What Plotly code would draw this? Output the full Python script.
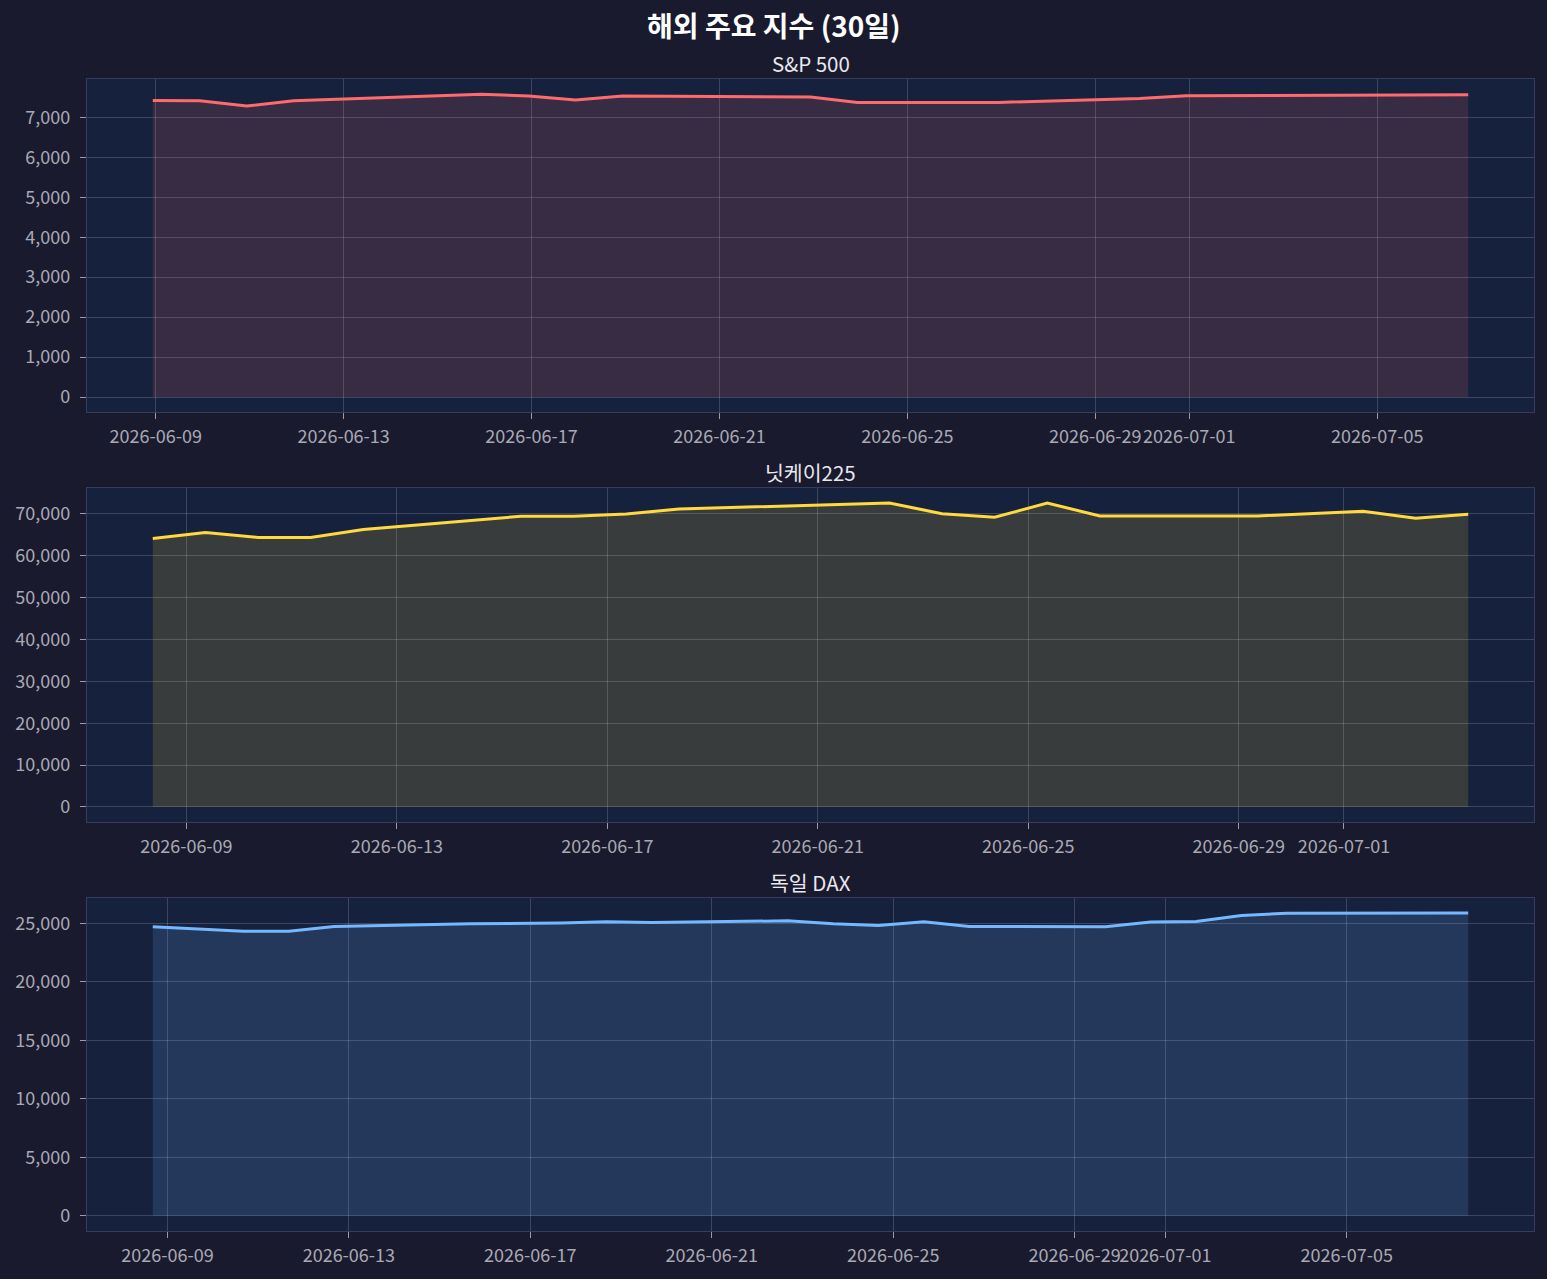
import pandas as pd
import plotly.graph_objects as go
from plotly.subplots import make_subplots

FONT = "Noto Sans CJK KR"

# S&P 500
sp_dates = ["2026-06-08 22:30", "2026-06-09 22:30", "2026-06-10 22:30", "2026-06-11 22:30",
            "2026-06-15 22:30", "2026-06-16 22:30", "2026-06-17 22:30", "2026-06-18 22:30",
            "2026-06-22 22:30", "2026-06-23 22:30", "2026-06-26 22:30", "2026-06-29 22:30",
            "2026-06-30 22:30", "2026-07-06 22:30"]
sp_close = [7422, 7412, 7280, 7412, 7578, 7532, 7432, 7532, 7508, 7372, 7372, 7471, 7536, 7561]
sp_ticks = ["2026-06-09", "2026-06-13", "2026-06-17", "2026-06-21", "2026-06-25",
            "2026-06-29", "2026-07-01", "2026-07-05"]

# 닛케이225
nk_dates = ["2026-06-08 08:40", "2026-06-09 08:40", "2026-06-10 08:40", "2026-06-11 08:40",
            "2026-06-12 08:40", "2026-06-15 08:40", "2026-06-16 08:40", "2026-06-17 08:40",
            "2026-06-18 08:40", "2026-06-22 08:40", "2026-06-23 08:40", "2026-06-24 08:40",
            "2026-06-25 08:40", "2026-06-26 08:40", "2026-06-29 08:40", "2026-07-01 08:40",
            "2026-07-02 08:40", "2026-07-03 08:40"]
nk_close = [64161, 65579, 64397, 64397, 66300, 69456, 69456, 70000, 71182, 72600,
            70071, 69220, 72600, 69527, 69527, 70638, 68983, 69929]
nk_ticks = ["2026-06-09", "2026-06-13", "2026-06-17", "2026-06-21", "2026-06-25",
            "2026-06-29", "2026-07-01"]

# 독일 DAX
dax_dates = ["2026-06-08 16:15", "2026-06-10 16:15", "2026-06-11 16:15", "2026-06-12 16:15",
             "2026-06-15 16:15", "2026-06-16 16:15", "2026-06-17 16:15", "2026-06-18 16:15",
             "2026-06-19 16:15", "2026-06-22 16:15", "2026-06-23 16:15", "2026-06-24 16:15",
             "2026-06-25 16:15", "2026-06-26 16:15", "2026-06-29 16:15", "2026-06-30 16:15",
             "2026-07-01 16:15", "2026-07-02 16:15", "2026-07-03 16:15", "2026-07-07 16:15"]
dax_close = [24711, 24320, 24320, 24745, 24966, 25000, 25040, 25136, 25085, 25221,
             24966, 24830, 25136, 24745, 24711, 25111, 25170, 25680, 25876, 25900]
dax_ticks = sp_ticks

panels = [
    ("S&P 500", sp_dates, sp_close, sp_ticks, 1000, "#ff6b6b", "rgba(255,107,107,0.15)"),
    ("닛케이225", nk_dates, nk_close, nk_ticks, 10000, "#ffd93d", "rgba(255,217,61,0.15)"),
    ("독일 DAX", dax_dates, dax_close, dax_ticks, 5000, "#74b9ff", "rgba(116,185,255,0.15)"),
]

W, H = 1547, 1279
ML, MR, MT, MB = 87, 13, 79, 42
plot_h = H - MT - MB
# panel top/bottom in pixels
panel_px = [(79, 414), (490, 826), (902, 1237)]


def frac(px):
    return (H - MB - px) / plot_h


fig = make_subplots(rows=3, cols=1)

for i, (name, dates, close, ticks, dtick, color, fill) in enumerate(panels):
    row = i + 1
    x = pd.to_datetime(dates)
    fig.add_trace(go.Scatter(x=x, y=close, mode="lines", fill="tozeroy",
                             fillcolor=fill, line=dict(color=color, width=3),
                             name=name, showlegend=False), row=row, col=1)

    pad = (x.max() - x.min()) * 0.05
    ymax = max(close)
    top, bot = panel_px[i]
    common = dict(showgrid=True, gridcolor="rgba(255,255,255,0.17)", gridwidth=1,
                  showline=True, linecolor="#353c5e", linewidth=1.3, mirror=True,
                  ticks="outside", ticklen=6, tickcolor="#9a9aa8", zeroline=False,
                  tickfont=dict(family=FONT, size=18, color="#a9a9b4"))
    fig.update_xaxes(range=[x.min() - pad, x.max() + pad], tickvals=pd.to_datetime(ticks),
                     ticktext=ticks, tickangle=0, ticklabelstandoff=2,
                     row=row, col=1, **common)
    fig.update_yaxes(range=[-0.05 * ymax, 1.05 * ymax], dtick=dtick, tickformat=",d",
                     ticklabelstandoff=6, domain=[frac(bot), frac(top)],
                     row=row, col=1, **common)

    fig.add_annotation(text=name, xref="paper", yref="paper", x=0.5,
                       y=frac(top) + 16 / plot_h, yanchor="middle", showarrow=False,
                       font=dict(family=FONT, size=20.5, color="#e8e8ee"))

fig.add_annotation(text="<b>해외 주요 지수 (30일)</b>", xref="paper", yref="paper",
                   x=(W / 2 - ML) / (W - ML - MR), y=frac(25), yanchor="middle",
                   showarrow=False, font=dict(family=FONT, size=28, color="#ffffff"))

fig.update_layout(width=W, height=H, margin=dict(l=ML, r=MR, t=MT, b=MB),
                  paper_bgcolor="#1a1a2e", plot_bgcolor="#16213e",
                  font=dict(family=FONT, color="#a9a9b4"))

fig.write_html("out.html", config={"displayModeBar": False},
               post_script="document.body.style.margin='0';")
